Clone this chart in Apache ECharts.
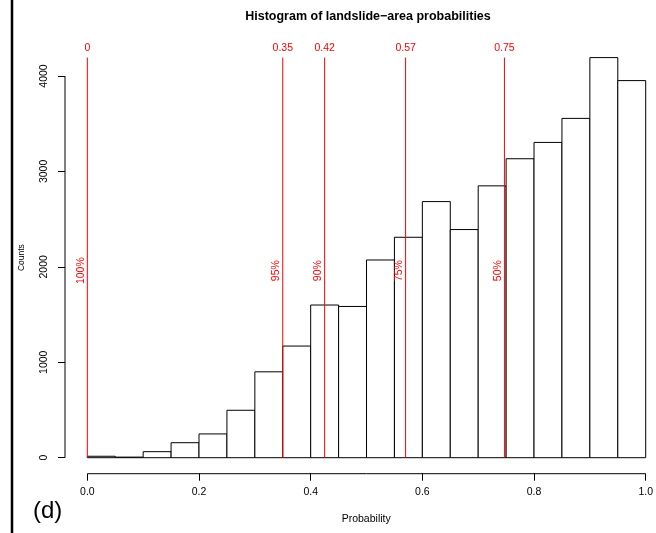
<!DOCTYPE html>
<html>
<head>
<meta charset="utf-8">
<script src="https://cdn.jsdelivr.net/npm/echarts@6/dist/echarts.min.js"></script>
<style>
html,body{margin:0;padding:0;background:#fff;}
#chart{width:656px;height:533px;}
</style>
</head>
<body>
<div id="chart"></div>
<script>
// ---- data ----
const binStarts = [0.00,0.05,0.10,0.15,0.20,0.25,0.30,0.35,0.40,0.45,0.50,0.55,0.60,0.65,0.70,0.75,0.80,0.85,0.90,0.95];
const binWidth = 0.05;
const counts = [15,6,63,157,249,497,900,1170,1600,1585,2072,2310,2684,2391,2849,3133,3304,3556,4193,3952];
const xTicks = [0,0.2,0.4,0.6,0.8,1.0];
const xTickLabels = ['0.0','0.2','0.4','0.6','0.8','1.0'];
const yTicks = [0,1000,2000,3000,4000];
const yTickLabels = ['0','1000','2000','3000','4000'];
const cutValues = [0, 0.35, 0.425, 0.57, 0.747];
const cutLabels = ['0','0.35','0.42','0.57','0.75'];
const cutPercents = ['100%','95%','90%','75%','50%'];
const titleText = 'Histogram of landslide\u2212area probabilities';

const FONT = '"Liberation Sans", Arial, sans-serif';
const maxCount = Math.max(...counts);
const xPad = 0.04;
const yPad = 0.04 * maxCount;
// plot region is cropped on the right side in the reference
const xMaxVisible = 1.012;

const chart = echarts.init(document.getElementById('chart'), null, {renderer:'canvas'});

const barData = binStarts.map((s,i)=>[s, s+binWidth, counts[i]]);
const cutData = cutValues.map((v,i)=>[v, i]);

function lookup(vals, labels, v){
  const i = vals.findIndex(t=>Math.abs(t-v)<1e-9);
  return i>=0 ? labels[i] : '';
}

const option = {
  animation:false,
  backgroundColor:'#ffffff',
  title:{
    text: titleText,
    left: 363, top: 5, textAlign:'center',
    textStyle:{fontFamily:FONT, fontSize:12.5, fontWeight:'bold', color:'#000'}
  },
  grid:{left:65, top:41.6, right:0, height:432.1, containLabel:false},
  xAxis:{
    type:'value', min:-xPad, max:xMaxVisible,
    axisLine:{show:false, onZero:false},
    splitLine:{show:false},
    axisTick:{show:true, customValues:xTicks, length:7, lineStyle:{color:'#000', width:1}},
    axisLabel:{show:true, customValues:xTicks, margin:13,
      formatter:(v)=>lookup(xTicks, xTickLabels, v),
      fontFamily:FONT, fontSize:10.5, color:'#000'},
    name:'Probability', nameLocation:'middle', nameGap:40,
    nameTextStyle:{fontFamily:FONT, fontSize:10.5, color:'#000', padding:[0,0,0,15]}
  },
  yAxis:{
    type:'value', min:-yPad, max:maxCount+yPad,
    axisLine:{show:false, onZero:false},
    splitLine:{show:false},
    axisTick:{show:true, customValues:yTicks, length:7, lineStyle:{color:'#000', width:1}},
    axisLabel:{show:true, customValues:yTicks, rotate:90, margin:15,
      formatter:(v)=>lookup(yTicks, yTickLabels, v),
      fontFamily:FONT, fontSize:10.5, color:'#000'},
    name:'Counts', nameLocation:'middle', nameGap:39, nameRotate:90,
    nameTextStyle:{fontFamily:FONT, fontSize:8.5, color:'#000'}
  },
  graphic:[
    {type:'line', shape:{x1:12, y1:0, x2:12, y2:533}, style:{stroke:'#000', lineWidth:2.5}, z:100},
    {type:'text', x:33, y:511, style:{text:'(d)', font:'24px '+FONT, fill:'#000', verticalAlign:'middle'}, z:100}
  ],
  series:[
    {
      type:'custom', name:'bars', data:barData, clip:false, z:2,
      renderItem:(params, api)=>{
        const p0 = api.coord([api.value(0), api.value(2)]);
        const p1 = api.coord([api.value(1), 0]);
        return {type:'rect', shape:{x:p0[0], y:p0[1], width:p1[0]-p0[0], height:p1[1]-p0[1]},
          style:{fill:'#fff', stroke:'#000', lineWidth:1}};
      }
    },
    {
      type:'custom', name:'axes', data:[[0]], clip:false, z:3,
      renderItem:(params, api)=>{
        const cs = params.coordSys;
        const yb = cs.y + cs.height;
        const xa = api.coord([xTicks[0], 0])[0];
        const xb = api.coord([xTicks[xTicks.length-1], 0])[0];
        const y0 = api.coord([0, yTicks[0]])[1];
        const y1 = api.coord([0, yTicks[yTicks.length-1]])[1];
        return {type:'group', children:[
          {type:'line', shape:{x1:xa, y1:yb, x2:xb, y2:yb}, style:{stroke:'#000', lineWidth:1}},
          {type:'line', shape:{x1:cs.x, y1:y0, x2:cs.x, y2:y1}, style:{stroke:'#000', lineWidth:1}}
        ]};
      }
    },
    {
      type:'custom', name:'cuts', data:cutData, clip:false, z:5,
      renderItem:(params, api)=>{
        const i = api.value(1);
        const v = api.value(0);
        const bot = api.coord([v, 0]);
        const top = api.coord([v, maxCount]);
        const mid = api.coord([v, 1960]);
        return {type:'group', children:[
          {type:'line', shape:{x1:bot[0], y1:bot[1], x2:top[0], y2:top[1]}, style:{stroke:'#ff0000', lineWidth:1}},
          {type:'text', x:top[0], y:top[1]-9.5, style:{text:cutLabels[i], fill:'#ff0000', font:'10.5px '+FONT, align:'center', verticalAlign:'middle'}},
          {type:'text', x:mid[0]-1, y:mid[1], rotation:Math.PI/2, style:{text:cutPercents[i], fill:'#ff0000', font:'10.5px '+FONT, align:'center', verticalAlign:'bottom'}}
        ]};
      }
    }
  ]
};
chart.setOption(option);
</script>
</body>
</html>
